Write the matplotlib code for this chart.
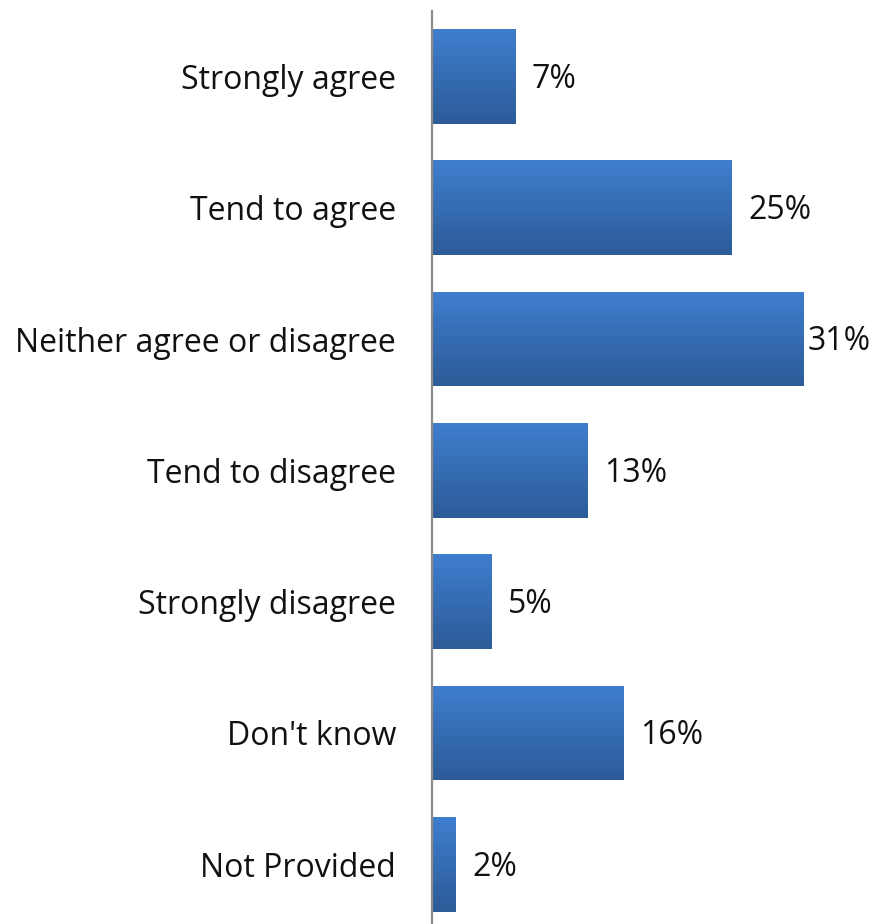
import numpy as np
import matplotlib
matplotlib.use("Agg")
import matplotlib.pyplot as plt
from matplotlib.colors import LinearSegmentedColormap

categories = ["Strongly agree", "Tend to agree", "Neither agree or disagree",
              "Tend to disagree", "Strongly disagree", "Don't know", "Not Provided"]
values = [7, 25, 31, 13, 5, 16, 2]

plt.rcParams['font.family'] = ['Open Sans', 'DejaVu Sans']

W, H = 876, 924
fig = plt.figure(figsize=(W / 100, H / 100), dpi=100)
# axes: left at x=432px, top at y=11px, 131.3px per category
top_px, step = 10.8, 131.3
ax_h = step * len(categories)
ax = fig.add_axes([432 / W, (H - top_px - ax_h) / H, (W - 432) / W, ax_h / H])

y = np.arange(len(categories))
bars = ax.barh(y, values, height=0.72, color="none", edgecolor="none")

grad = LinearSegmentedColormap.from_list("g", ["#3F7ECE", "#2C5B98"])
for b in bars:
    x0, y0 = b.get_x(), b.get_y()
    w, h = b.get_width(), b.get_height()
    im = ax.imshow(np.linspace(0, 1, 100).reshape(-1, 1), cmap=grad, aspect="auto",
                   extent=(x0, x0 + w, y0, y0 + h), origin="lower", zorder=2)
    im.set_clip_path(b)

ax.set_xlim(0, 37)
ax.set_ylim(len(categories) - 0.5, -0.5)
ax.set_yticks(y)
ax.set_yticklabels(categories, fontsize=23, color="#111111")
ax.tick_params(axis="y", length=0, pad=26)
ax.set_xticks([])
for s in ["top", "right", "bottom"]:
    ax.spines[s].set_visible(False)
ax.spines["left"].set_color("#8C8C8C")
ax.spines["left"].set_linewidth(1.6)
ax.spines["left"].set_zorder(3)

for yi, v in zip(y, values):
    end_px = 432 + v * 12
    off = min(11.5, (W - 68 - end_px) * 0.72)
    ax.annotate(f"{v}%", (v, yi), xytext=(off, -2), textcoords="offset points",
                ha="left", va="center", fontsize=23, color="#111111")

fig.savefig("out.png", dpi=100)
